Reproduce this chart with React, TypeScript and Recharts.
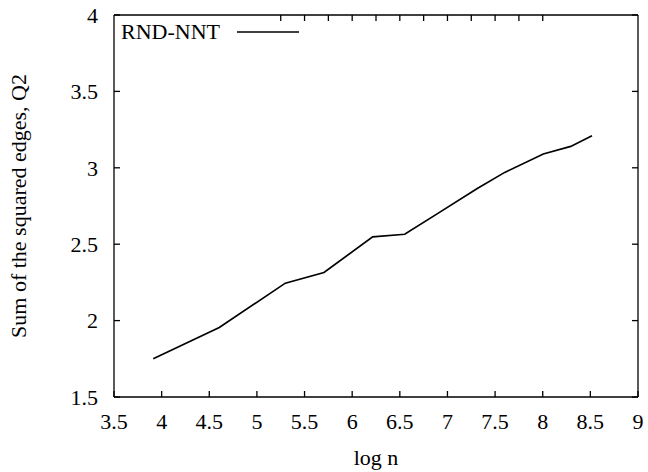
import { LineChart, Line, XAxis, YAxis, Legend } from "recharts";

// log n values (n = 50, 100, 200, 300, 500, 700, 1000, 1500, 2000, 3000, 4000, 5000)
const logN = [3.912, 4.605, 5.298, 5.704, 6.215, 6.551, 6.908, 7.313, 7.601, 8.006, 8.294, 8.517];
const q2 = [1.75, 1.955, 2.245, 2.315, 2.548, 2.565, 2.705, 2.865, 2.97, 3.09, 3.14, 3.21];
const xTicks = [3.5, 4, 4.5, 5, 5.5, 6, 6.5, 7, 7.5, 8, 8.5, 9];
const yTicks = [1.5, 2, 2.5, 3, 3.5, 4];
const seriesName = "RND-NNT";

const data = logN.map((x, i) => ({ x, q2: q2[i] }));

const FONT = "Liberation Serif";
const lineStyle = { stroke: "#000", strokeWidth: 1.3 };

function XTick({ x, y, payload }: any) {
  return (
    <text x={x} y={y} dy="0.71em" textAnchor="middle" fontFamily={FONT} fontSize={22} fill="#000">
      {payload.value}
    </text>
  );
}

function YTick({ x, y, payload }: any) {
  return (
    <text x={x} y={y} dy="0.35em" textAnchor="end" fontFamily={FONT} fontSize={22} fill="#000">
      {payload.value}
    </text>
  );
}

function LegendBox() {
  return (
    <div style={{ display: "flex", alignItems: "center", fontFamily: FONT, fontSize: 22, color: "#000" }}>
      <span>{seriesName}</span>
      <svg width={62} height={4} style={{ marginLeft: 17 }}>
        <line x1={0} y1={2} x2={62} y2={2} stroke="#000" strokeWidth={1.5} />
      </svg>
    </div>
  );
}

function XLabel({ viewBox }: any) {
  return (
    <text x={viewBox.x + viewBox.width / 2} y={viewBox.y + viewBox.height - 7} textAnchor="middle" fontFamily={FONT} fontSize={22} fill="#000">
      log n
    </text>
  );
}

function YLabel({ viewBox }: any) {
  const x = viewBox.x + 18;
  const y = viewBox.y + viewBox.height / 2;
  return (
    <text
      x={x}
      y={y}
      transform={`rotate(-90, ${x}, ${y})`}
      textAnchor="middle"
      dominantBaseline="central"
      fontFamily={FONT}
      fontSize={22}
      fill="#000"
    >
      Sum of the squared edges, Q2
    </text>
  );
}

export default function App() {
  return (
    <div style={{ position: "absolute", left: 0, top: 0, width: 648, height: 472, background: "#fff" }}>
      <LineChart width={648} height={472} data={data} margin={{ top: 0, right: 0, left: 0, bottom: 0 }}>
        <XAxis
          dataKey="x"
          type="number"
          domain={[3.5, 9]}
          ticks={xTicks}
          allowDataOverflow
          height={75}
          axisLine={lineStyle}
          tickLine={lineStyle}
          tickSize={-6}
          tickMargin={22}
          tick={<XTick />}
          label={<XLabel />}
        />
        <XAxis
          xAxisId="top"
          orientation="top"
          type="number"
          domain={[3.5, 9]}
          ticks={xTicks}
          allowDataOverflow
          height={15}
          axisLine={lineStyle}
          tickLine={lineStyle}
          tickSize={-6}
          tickFormatter={() => ""}
        />
        <YAxis
          type="number"
          domain={[1.5, 4]}
          ticks={yTicks}
          allowDataOverflow
          width={114}
          axisLine={lineStyle}
          tickLine={lineStyle}
          tickSize={-6}
          tickMargin={22}
          tick={<YTick />}
          label={<YLabel />}
        />
        <YAxis
          yAxisId="right"
          orientation="right"
          type="number"
          domain={[1.5, 4]}
          ticks={yTicks}
          allowDataOverflow
          width={10}
          axisLine={lineStyle}
          tickLine={lineStyle}
          tickSize={-6}
          tickFormatter={() => ""}
        />
        <Legend
          layout="vertical"
          align="center"
          verticalAlign="middle"
          content={<LegendBox />}
          wrapperStyle={{ top: 19, left: 121, width: "auto" }}
        />
        <Line
          dataKey="q2"
          name={seriesName}
          type="linear"
          stroke="#000"
          strokeWidth={1.7}
          dot={false}
          isAnimationActive={false}
        />
      </LineChart>
    </div>
  );
}
